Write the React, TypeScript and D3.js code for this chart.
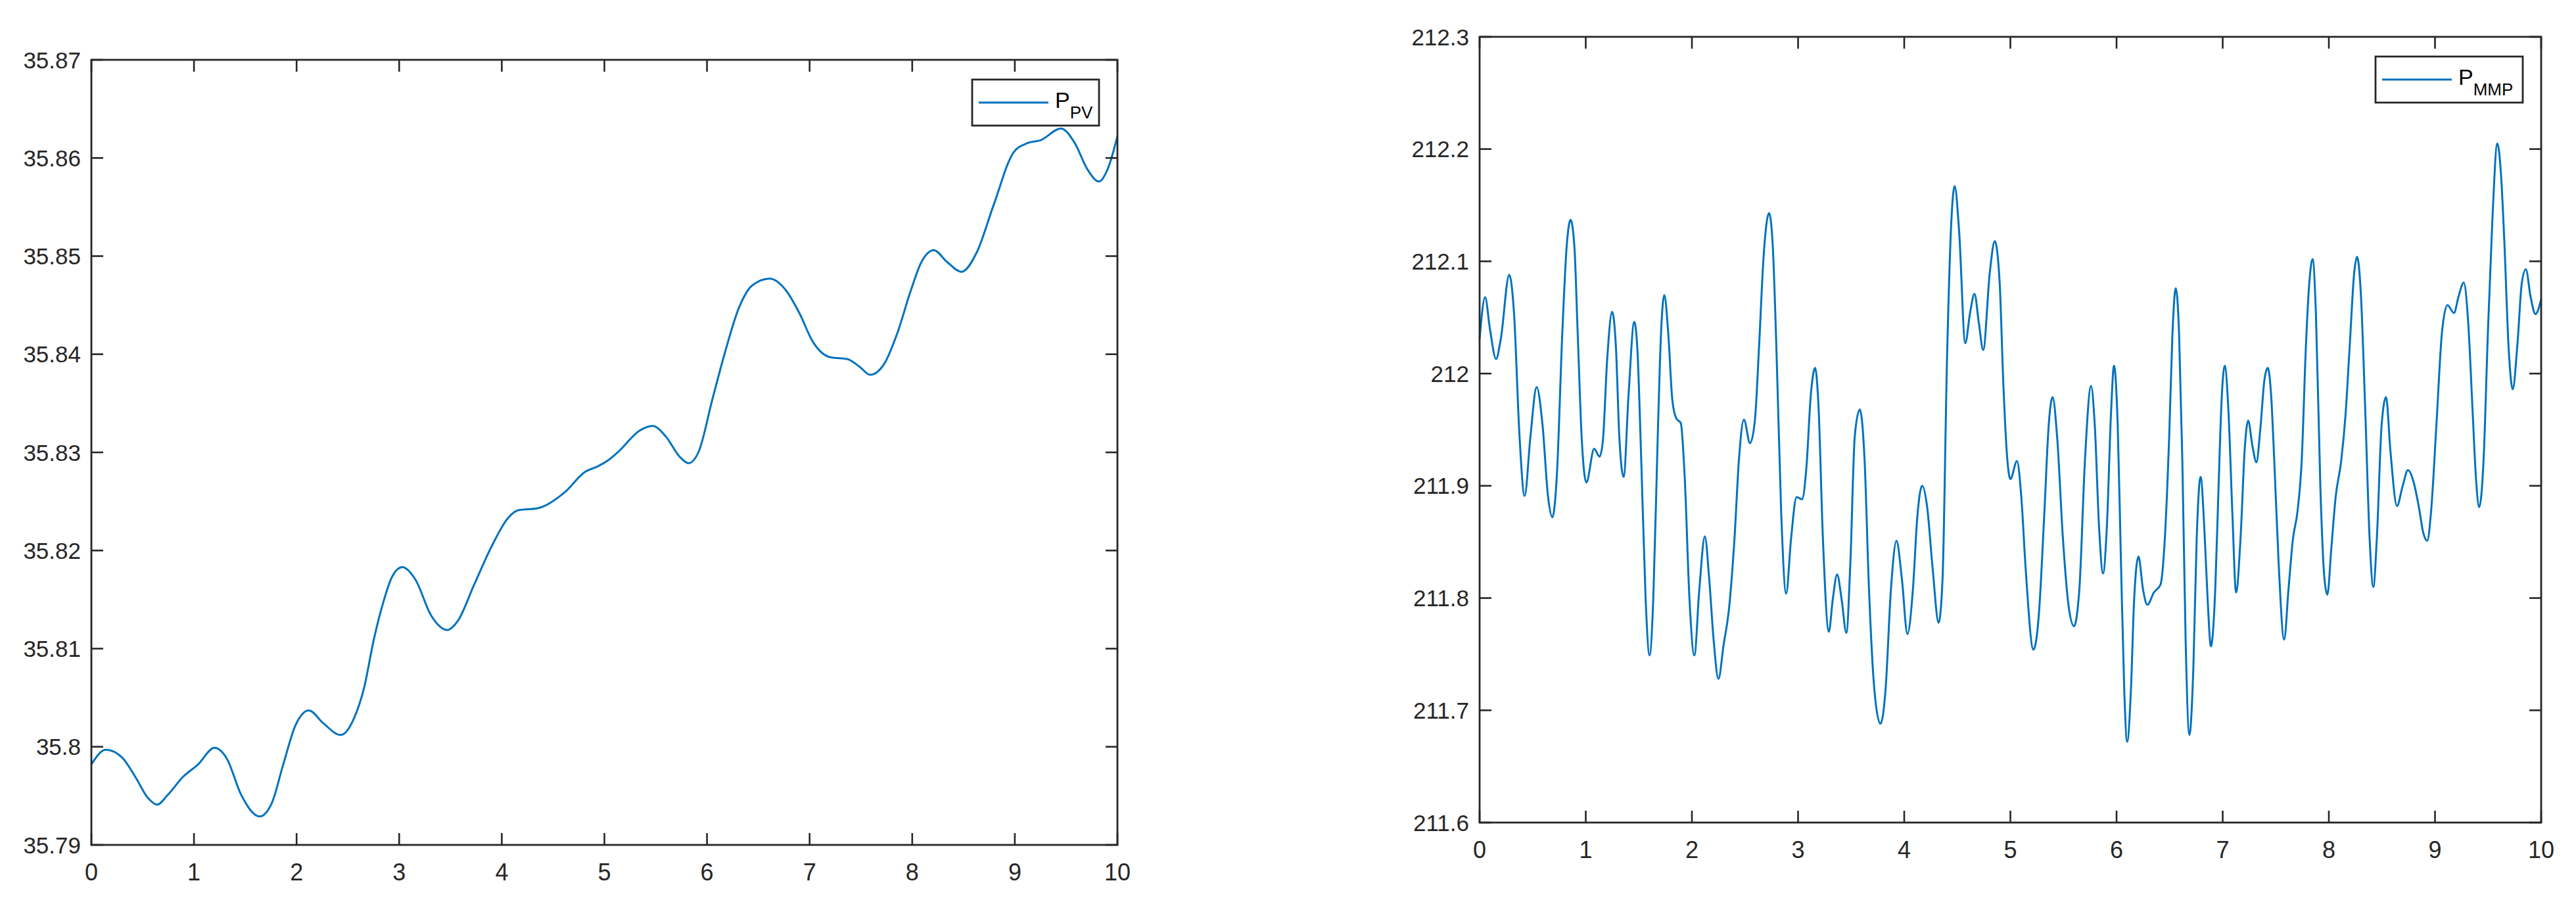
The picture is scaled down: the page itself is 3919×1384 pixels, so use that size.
import * as d3 from "d3";

// P_PV trace (left panel)
const ppvTime = [
  0, 0.14, 0.3, 0.43, 0.55, 0.64, 0.745, 0.89, 1.04, 1.2, 1.32, 1.46, 1.64, 1.76, 1.87, 1.99,
  2.12, 2.26, 2.43, 2.56, 2.66, 2.75, 2.85, 2.93, 3.03, 3.16, 3.31, 3.47, 3.57, 3.73, 3.9,
  4.06, 4.16, 4.35, 4.61, 4.81, 4.94, 5.05, 5.14, 5.34, 5.47, 5.6, 5.73, 5.82, 5.92, 6.05,
  6.17, 6.31, 6.44, 6.61, 6.77, 6.9, 7.03, 7.2, 7.37, 7.49, 7.59, 7.72, 7.86, 7.98, 8.09,
  8.21, 8.34, 8.48, 8.63, 8.79, 8.99, 9.12, 9.25, 9.45, 9.58, 9.71, 9.82, 9.91, 10,
];
const ppvValue = [
  35.7982, 35.7997, 35.7989, 35.7969, 35.7948, 35.7941, 35.7951, 35.7969, 35.7982, 35.7999,
  35.7988, 35.7951, 35.7929, 35.7943, 35.7982, 35.8022, 35.8037, 35.8024, 35.8012, 35.8029,
  35.8061, 35.8108, 35.8149, 35.8173, 35.8183, 35.817, 35.8134, 35.8119, 35.8128, 35.8165,
  35.8204, 35.8233, 35.8241, 35.8243, 35.8259, 35.828, 35.8286, 35.8293, 35.8301, 35.8322,
  35.8327, 35.8316, 35.8296, 35.8289, 35.8301, 35.8353, 35.84, 35.8447, 35.847, 35.8477,
  35.8465, 35.8442, 35.8413, 35.8397, 35.8395, 35.8387, 35.8379, 35.8389, 35.8423, 35.8463,
  35.8494, 35.8506, 35.8494, 35.8484, 35.8504, 35.8551, 35.8606, 35.8615, 35.8618, 35.863,
  35.8616, 35.8588, 35.8576, 35.859, 35.8622,
];

// P_MMP trace (right panel)
const pmmpTime = [
  0, 0.052, 0.097, 0.155, 0.2, 0.279, 0.324, 0.376, 0.424, 0.479, 0.537, 0.593, 0.645, 0.686,
  0.727, 0.779, 0.82, 0.857, 0.893, 0.924, 0.961, 1.006, 1.079, 1.13, 1.161, 1.202, 1.248,
  1.285, 1.316, 1.357, 1.403, 1.457, 1.486, 1.523, 1.564, 1.601, 1.636, 1.678, 1.709, 1.74,
  1.777, 1.816, 1.853, 1.895, 1.932, 1.977, 2.023, 2.07, 2.122, 2.163, 2.205, 2.25, 2.298,
  2.349, 2.401, 2.442, 2.49, 2.547, 2.593, 2.634, 2.675, 2.727, 2.762, 2.799, 2.841, 2.888,
  2.934, 2.986, 3.037, 3.079, 3.12, 3.161, 3.192, 3.234, 3.29, 3.327, 3.368, 3.41, 3.455,
  3.492, 3.534, 3.581, 3.627, 3.668, 3.72, 3.776, 3.823, 3.875, 3.927, 3.978, 4.03, 4.082,
  4.123, 4.169, 4.216, 4.268, 4.324, 4.361, 4.403, 4.444, 4.475, 4.517, 4.575, 4.62, 4.662,
  4.703, 4.744, 4.806, 4.853, 4.899, 4.934, 4.969, 5.0, 5.062, 5.103, 5.144, 5.217, 5.268,
  5.32, 5.361, 5.398, 5.44, 5.495, 5.547, 5.599, 5.65, 5.702, 5.76, 5.795, 5.836, 5.873,
  5.908, 5.949, 5.976, 6.011, 6.042, 6.073, 6.1, 6.135, 6.166, 6.207, 6.249, 6.29, 6.352,
  6.414, 6.455, 6.496, 6.527, 6.558, 6.589, 6.62, 6.651, 6.686, 6.724, 6.755, 6.792, 6.827,
  6.858, 6.889, 6.93, 6.961, 6.992, 7.019, 7.054, 7.091, 7.126, 7.168, 7.209, 7.24, 7.281,
  7.318, 7.353, 7.394, 7.425, 7.456, 7.486, 7.527, 7.579, 7.62, 7.662, 7.703, 7.744, 7.785,
  7.816, 7.847, 7.878, 7.92, 7.957, 7.986, 8.023, 8.064, 8.116, 8.157, 8.198, 8.239, 8.266,
  8.301, 8.343, 8.384, 8.419, 8.452, 8.497, 8.539, 8.58, 8.642, 8.693, 8.745, 8.797, 8.848,
  8.89, 8.927, 8.962, 9.013, 9.065, 9.117, 9.179, 9.22, 9.271, 9.313, 9.354, 9.385, 9.416,
  9.457, 9.498, 9.54, 9.587, 9.622, 9.653, 9.694, 9.732, 9.777, 9.818, 9.856, 9.901, 9.946, 10,
];
const pmmpValue = [
  212.031, 212.068, 212.04, 212.013, 212.031, 212.088, 212.054, 211.944, 211.891, 211.944,
  211.988, 211.954, 211.89, 211.872, 211.908, 212.036, 212.113, 212.137, 212.113, 212.036,
  211.944, 211.903, 211.933, 211.926, 211.94, 212.013, 212.055, 212.022, 211.944, 211.908,
  211.981, 212.046, 212.022, 211.922, 211.799, 211.749, 211.799, 211.944, 212.036, 212.07,
  212.036, 211.976, 211.96, 211.956, 211.908, 211.799, 211.749, 211.808, 211.855, 211.817,
  211.762, 211.728, 211.758, 211.79, 211.853, 211.922, 211.959, 211.938, 211.958, 212.027,
  212.104, 212.143, 212.113, 212.013, 211.876, 211.804, 211.853, 211.89, 211.888, 211.917,
  211.981, 212.005, 211.972, 211.853, 211.77, 211.799, 211.821, 211.799, 211.769, 211.83,
  211.944, 211.968, 211.922, 211.808, 211.717, 211.688, 211.717, 211.808, 211.851, 211.817,
  211.768, 211.808, 211.872, 211.9, 211.881, 211.826, 211.778, 211.817, 212.013, 212.136,
  212.167, 212.127, 212.027, 212.054, 212.071, 212.045, 212.021, 212.09, 212.118, 212.081,
  211.99, 211.926, 211.906, 211.922, 211.89, 211.826, 211.754, 211.785, 211.876, 211.954,
  211.979, 211.944, 211.853, 211.794, 211.775, 211.808, 211.922, 211.989, 211.954, 211.862,
  211.822, 211.862, 211.967, 212.007, 211.954, 211.831, 211.717, 211.672, 211.717, 211.799,
  211.837, 211.808, 211.794, 211.805, 211.812, 211.853, 211.944, 212.036, 212.076, 212.036,
  211.922, 211.762, 211.678, 211.739, 211.853, 211.908, 211.862, 211.799, 211.757, 211.808,
  211.899, 211.981, 212.007, 211.967, 211.876, 211.805, 211.853, 211.935, 211.958, 211.935,
  211.921, 211.949, 211.995, 212.005, 211.981, 211.922, 211.831, 211.763, 211.808, 211.853,
  211.876, 211.922, 212.027, 212.081, 212.102, 212.054, 211.899, 211.819, 211.803, 211.844,
  211.89, 211.922, 211.963, 212.027, 212.09, 212.104, 212.072, 211.967, 211.853, 211.81,
  211.853, 211.954, 211.979, 211.931, 211.882, 211.899, 211.914, 211.904, 211.881, 211.858,
  211.851, 211.876, 211.954, 212.036, 212.061, 212.054, 212.068, 212.081, 212.045, 211.967,
  211.908, 211.881, 211.922, 212.036, 212.136, 212.205, 212.177, 212.118, 212.022, 211.986,
  212.027, 212.081, 212.093, 212.068, 212.053, 212.066,
];

const xTicks = [0, 1, 2, 3, 4, 5, 6, 7, 8, 9, 10];
const ppvTicks = [35.79, 35.8, 35.81, 35.82, 35.83, 35.84, 35.85, 35.86, 35.87];
const pmmpTicks = [211.6, 211.7, 211.8, 211.9, 212, 212.1, 212.2, 212.3];

const W = 3919;
const H = 1384;
const AXIS = "#262626";
const LINE = "#0072BD";
const FONT = "'Liberation Sans', Arial, Helvetica, sans-serif";
const TICK = 18;

type PanelProps = {
  left: number; right: number; top: number; bottom: number;
  time: number[]; values: number[]; yTicks: number[];
  label: string; legendW: number;
};

const Panel = ({ left, right, top, bottom, time, values, yTicks, label, legendW }: PanelProps) => {
  const x = d3.scaleLinear().domain([0, 10]).range([left, right]);
  const y = d3.scaleLinear().domain([yTicks[0], yTicks[yTicks.length - 1]]).range([bottom, top]);

  const pts = time.map((t, i) => [t, values[i]] as [number, number]);
  const path = d3.line<[number, number]>()
    .x(d => x(d[0]))
    .y(d => y(d[1]))
    .curve(d3.curveMonotoneX)(pts);

  // legend box in top-right corner
  const lx = right - 28 - legendW;
  const ly = top + 30;

  return (
    <g>
      <path d={path || ""} fill="none" stroke={LINE} strokeWidth={3} strokeLinejoin="round" />

      {/* box */}
      <rect x={left} y={top} width={right - left} height={bottom - top}
        fill="none" stroke={AXIS} strokeWidth={2.8} />

      {/* x ticks, bottom and top, pointing inward */}
      {xTicks.map(t => (
        <g key={"x" + t}>
          <line x1={x(t)} x2={x(t)} y1={bottom} y2={bottom - TICK} stroke={AXIS} strokeWidth={2.6} />
          <line x1={x(t)} x2={x(t)} y1={top} y2={top + TICK} stroke={AXIS} strokeWidth={2.6} />
          <text x={x(t)} y={bottom + 54} textAnchor="middle" fontSize={36} fill={AXIS}
            fontFamily={FONT}>{t}</text>
        </g>
      ))}

      {/* y ticks, left and right */}
      {yTicks.map(t => (
        <g key={"y" + t}>
          <line x1={left} x2={left + TICK} y1={y(t)} y2={y(t)} stroke={AXIS} strokeWidth={2.6} />
          <line x1={right} x2={right - TICK} y1={y(t)} y2={y(t)} stroke={AXIS} strokeWidth={2.6} />
          <text x={left - 16} y={y(t)} dy="0.36em" textAnchor="end" fontSize={35} fill={AXIS}
            fontFamily={FONT}>{d3.format("~g")(t)}</text>
        </g>
      ))}

      {/* legend */}
      <rect x={lx} y={ly} width={legendW} height={70} fill="#fff" stroke={AXIS} strokeWidth={2.8} />
      <line x1={lx + 10} x2={lx + 116} y1={ly + 35} y2={ly + 35} stroke={LINE} strokeWidth={3} />
      <text x={lx + 126} y={ly + 43} fontSize={34} fill="#000" fontFamily={FONT}>
        P<tspan fontSize={26} dy={16}>{label}</tspan>
      </text>
    </g>
  );
};

export default function App() {
  return (
    <svg width={W} height={H} viewBox={`0 0 ${W} ${H}`}
      style={{ position: "absolute", left: 0, top: 0, display: "block", background: "#fff" }}>
      <rect width={W} height={H} fill="#fff" />
      <Panel left={139} right={1700} top={91} bottom={1285}
        time={ppvTime} values={ppvValue} yTicks={ppvTicks} label="PV" legendW={193} />
      <Panel left={2251} right={3866} top={56} bottom={1251}
        time={pmmpTime} values={pmmpValue} yTicks={pmmpTicks} label="MMP" legendW={224} />
    </svg>
  );
}
